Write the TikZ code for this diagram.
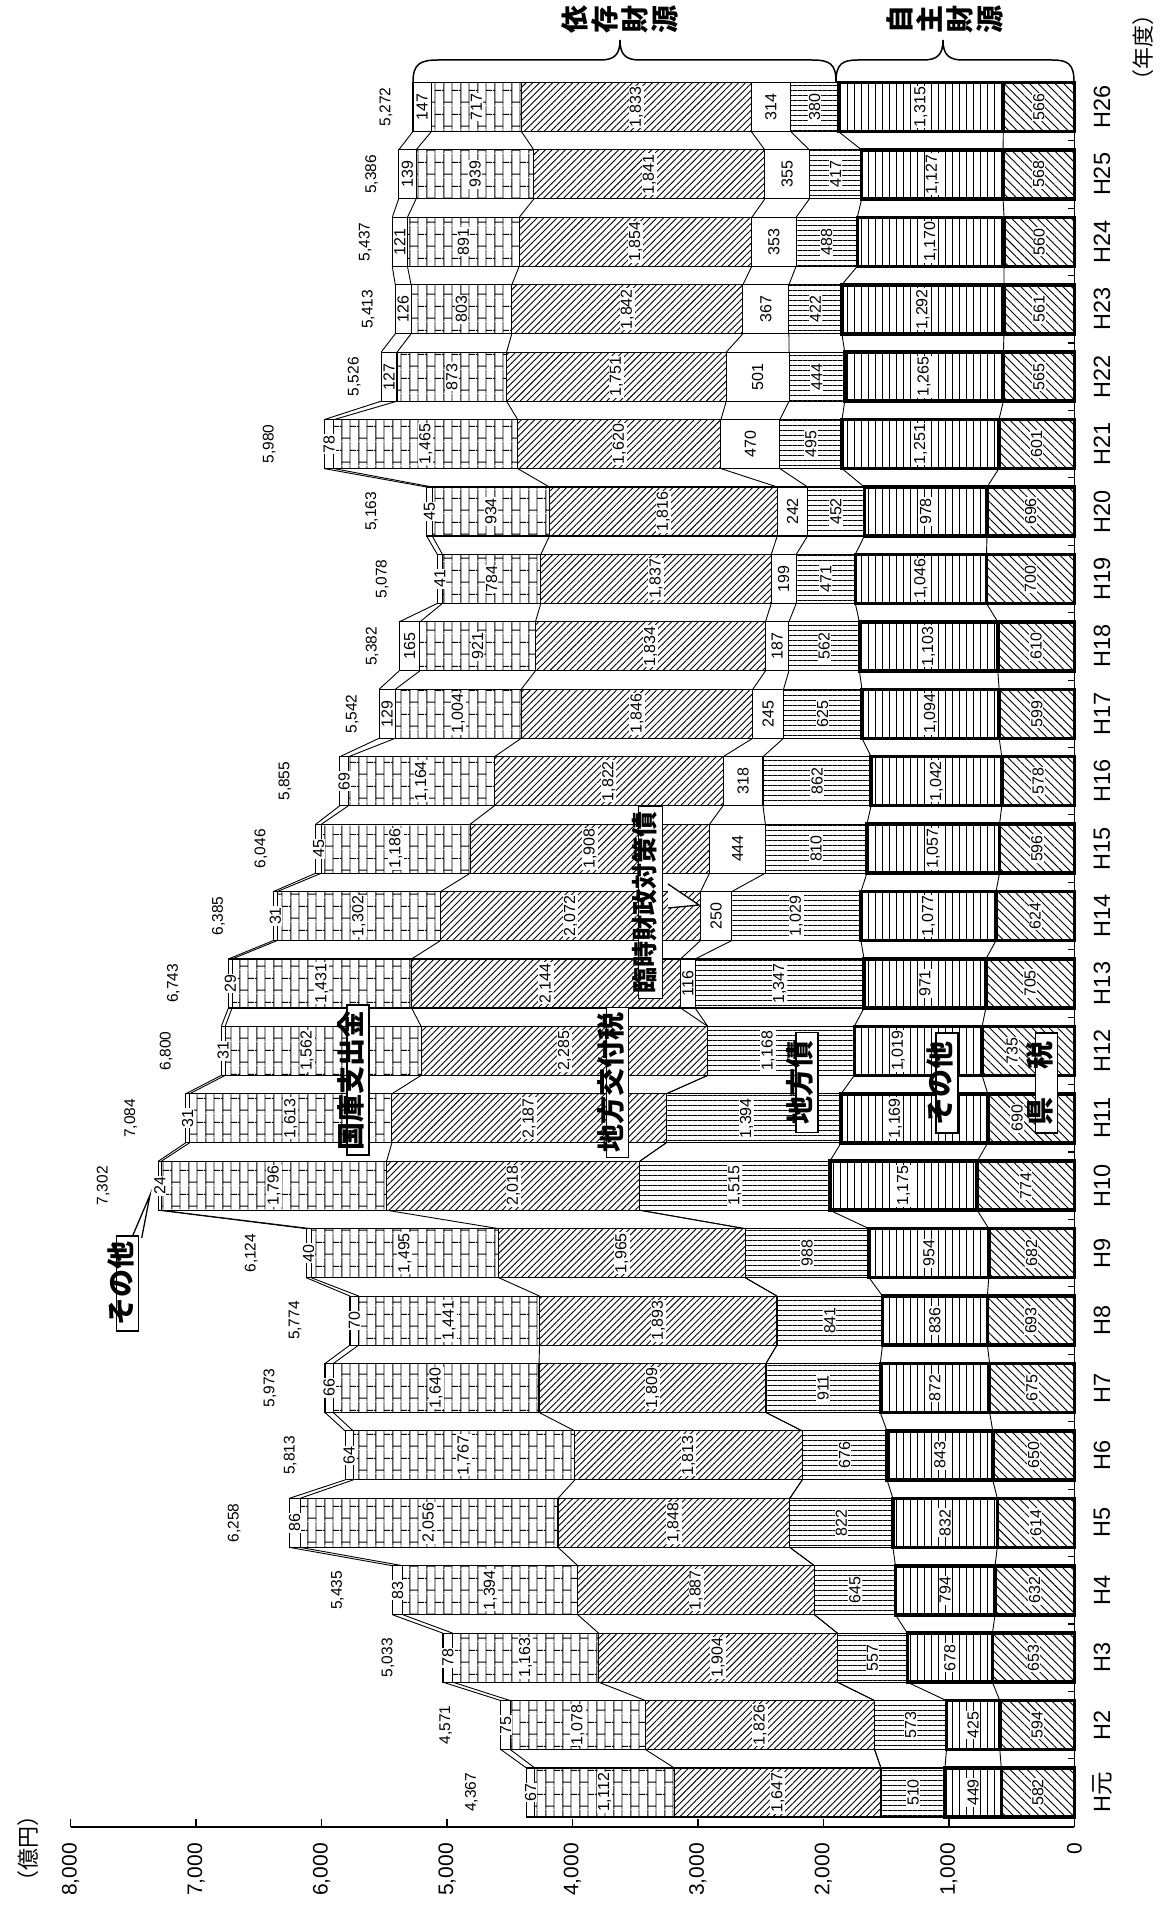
\documentclass[tikz,border=0pt]{standalone}
\usepackage{fontspec}
\setmainfont{Liberation Sans}
\newfontfamily\jp{Noto Sans CJK JP}
\usetikzlibrary{patterns,patterns.meta}
\pgfdeclarepattern{
  name=vbricks,
  bottom left={\pgfpointorigin},
  top right={\pgfpoint{17pt}{24pt}},
  tile size={\pgfpoint{17pt}{24pt}},
  code={
    \pgfsetlinewidth{0.9pt}
    \pgfpathmoveto{\pgfpoint{2pt}{0pt}}\pgfpathlineto{\pgfpoint{2pt}{24pt}}
    \pgfpathmoveto{\pgfpoint{10.5pt}{0pt}}\pgfpathlineto{\pgfpoint{10.5pt}{24pt}}
    \pgfpathmoveto{\pgfpoint{2pt}{3pt}}\pgfpathlineto{\pgfpoint{10.5pt}{3pt}}
    \pgfpathmoveto{\pgfpoint{10.5pt}{15pt}}\pgfpathlineto{\pgfpoint{17pt}{15pt}}
    \pgfpathmoveto{\pgfpoint{0pt}{15pt}}\pgfpathlineto{\pgfpoint{2pt}{15pt}}
    \pgfusepath{stroke}
  }
}
\pgfkeys{/pgf/number format/.cd,int detect,1000 sep={,},assume math mode=true}
\tikzset{
  seg/.style={draw=black,line width=1.1pt},
  own/.style={draw=black,line width=3.5pt},
  conn/.style={line width=0.9pt},
  numlbl/.style={rotate=90,fill=white,inner sep=1pt,font=\fontsize{16}{16}\selectfont},
  totl/.style={rotate=90,inner sep=1pt,font=\fontsize{15.5}{15.5}\selectfont},
  yl/.style={rotate=90,inner sep=1pt,font=\fontsize{23.5}{23.5}\selectfont},
  axl/.style={rotate=90,inner sep=1pt,anchor=east,font=\fontsize{21}{21}\selectfont},
  unitl/.style={rotate=90,font={\jp\fontsize{22}{22}\selectfont}},
  jbox/.style={rotate=90,draw,fill=white,line width=1.3pt,
     font={\jp\bfseries\fontsize{28}{28}\selectfont},
     text height=0.88em,text depth=0.12em,inner xsep=5pt,inner ysep=6pt},
  bracel/.style={line width=1.5pt},
  pLT/.style={pattern={Lines[angle=-45,distance=6pt,line width=0.9pt]}},
  pJS/.style={pattern={Lines[angle=90,distance=7pt,line width=0.9pt]}},
  pCS/.style={pattern={Lines[angle=0,distance=5pt,line width=0.9pt]}},
  pKF/.style={pattern={Lines[angle=45,distance=4.7pt,line width=0.9pt]}},
  pKK/.style={pattern=vbricks},
}
\def\shA{0}\def\shB{0}\def\shC{0}\def\shF{0}
\newcommand\resetsh{\def\shA{0}\def\shB{0}\def\shC{0}\def\shF{0}}
\newcommand\ybar[9]{%
 \pgfmathsetmacro\yc{1792.5-#1*67.42}%
 \pgfmathsetmacro\yt{\yc-24.5}%
 \pgfmathsetmacro\yb{\yc+24.5}%
 \pgfmathsetmacro\xA{1074.3-0.12545*(#3)}%
 \pgfmathsetmacro\xB{1074.3-0.12545*(#3+#4)}%
 \pgfmathsetmacro\xC{1074.3-0.12545*(#3+#4+#5)}%
 \pgfmathsetmacro\xD{1074.3-0.12545*(#3+#4+#5+#6)}%
 \pgfmathsetmacro\xE{1074.3-0.12545*(#3+#4+#5+#6+#7)}%
 \pgfmathsetmacro\xF{1074.3-0.12545*(#3+#4+#5+#6+#7+#8)}%
 \pgfmathsetmacro\xG{1074.3-0.12545*(#3+#4+#5+#6+#7+#8+#9)}%
 \pgfmathtruncatemacro\tot{#3+#4+#5+#6+#7+#8+#9}%
 \ifnum#9<100 \def\off{55}\else\def\off{27}\fi
 \path[seg,pKF] (\xD,\yt) rectangle (\xE,\yb);
 \path[seg,pKK] (\xE,\yt) rectangle (\xF,\yb);
 \path[seg,fill=white] (\xF,\yt) rectangle (\xG,\yb);
 \path[seg,pCS] (\xB,\yt) rectangle (\xC,\yb);
 \ifnum#6>0 \path[seg,fill=white] (\xC,\yt) rectangle (\xD,\yb);\fi
 \path[own,pLT] (1074.3,\yt) rectangle (\xA,\yb);
 \path[own,pJS] (\xA,\yt) rectangle (\xB,\yb);
 \coordinate (t-#1-1) at (\xA,\yt); \coordinate (b-#1-1) at (\xA,\yb);
 \coordinate (t-#1-2) at (\xB,\yt); \coordinate (b-#1-2) at (\xB,\yb);
 \coordinate (t-#1-3) at (\xC,\yt); \coordinate (b-#1-3) at (\xC,\yb);
 \coordinate (t-#1-4) at (\xD,\yt); \coordinate (b-#1-4) at (\xD,\yb);
 \coordinate (t-#1-5) at (\xE,\yt); \coordinate (b-#1-5) at (\xE,\yb);
 \coordinate (t-#1-6) at (\xF,\yt); \coordinate (b-#1-6) at (\xF,\yb);
 \coordinate (t-#1-7) at (\xG,\yt); \coordinate (b-#1-7) at (\xG,\yb);
 \node[numlbl] (n-#1-1) at ({(1074.3+\xA)/2+(\shA)},\yc) {\pgfmathprintnumber{#3}};
 \node[numlbl] (n-#1-2) at ({(\xA+\xB)/2+(\shB)},\yc) {\pgfmathprintnumber{#4}};
 \node[numlbl] (n-#1-3) at ({(\xB+\xC)/2+(\shC)},\yc) {\pgfmathprintnumber{#5}};
 \ifnum#6>0 \node[numlbl] (n-#1-4) at ({(\xC+\xD)/2},\yc) {\pgfmathprintnumber{#6}};\fi
 \node[numlbl] (n-#1-5) at ({(\xD+\xE)/2},\yc) {\pgfmathprintnumber{#7}};
 \node[numlbl] (n-#1-6) at ({(\xE+\xF)/2+(\shF)},\yc) {\pgfmathprintnumber{#8}};
 \node[numlbl] (n-#1-7) at ({(\xF+\xG)/2},\yc) {\pgfmathprintnumber{#9}};
 \node[totl] (tl-#1) at ({\xG-\off},\yc) {\pgfmathprintnumber{\tot}};
 \node[yl] (yr-#1) at (1102,\yc) {#2};
}
\begin{document}
\begin{tikzpicture}[x=1pt,y=-1pt]
\fill[white] (0,0) rectangle (1164,1905);
\useasboundingbox (0,0) rectangle (1164,1905);
% category axis
\draw[line width=1.3pt] (1074.3,1827) -- (1074.3,82.5);
\foreach \i in {0,...,24}{\pgfmathsetmacro\ym{1792.5-\i*67.42-33.71}
  \draw[line width=1.1pt] (1074.3,\ym) -- (1068,\ym);}
% value axis
\draw[line width=1.5pt] (70.7,1827) -- (1074.3,1827);
\foreach \v in {0,...,8}{\pgfmathsetmacro\xv{1074.3-125.45*\v}
  \draw[line width=1.5pt] (\xv,1827) -- (\xv,1819);
  \pgfmathtruncatemacro\vv{\v*1000}
  \node[axl] (ax-\v) at (\xv,1842) {\pgfmathprintnumber{\vv}};}
\node[unitl] (unit) at (28,1848) {（億円）};
\node[unitl] (nendo) at (1143,48) {（年度）};
% bars
\ybar{0}{H{\jp 元}}{582}{449}{510}{0}{1647}{1112}{67}
\ybar{1}{H2}{594}{425}{573}{0}{1826}{1078}{75}
\ybar{2}{H3}{653}{678}{557}{0}{1904}{1163}{78}
\ybar{3}{H4}{632}{794}{645}{0}{1887}{1394}{83}
\ybar{4}{H5}{614}{832}{822}{0}{1848}{2056}{86}
\ybar{5}{H6}{650}{843}{676}{0}{1813}{1767}{64}
\ybar{6}{H7}{675}{872}{911}{0}{1809}{1640}{66}
\ybar{7}{H8}{693}{836}{841}{0}{1893}{1441}{70}
\ybar{8}{H9}{682}{954}{988}{0}{1965}{1495}{40}
\ybar{9}{H10}{774}{1175}{1515}{0}{2018}{1796}{24}
\def\shA{-14}\def\shB{-19}\def\shC{-7}
\ybar{10}{H11}{690}{1169}{1394}{0}{2187}{1613}{31}
\def\shA{-16}\def\shB{-20}\def\shC{-13}\def\shF{-16}
\ybar{11}{H12}{735}{1019}{1168}{0}{2285}{1562}{31}
\resetsh
\ybar{12}{H13}{705}{971}{1347}{116}{2144}{1431}{29}
\ybar{13}{H14}{624}{1077}{1029}{250}{2072}{1302}{31}
\ybar{14}{H15}{596}{1057}{810}{444}{1908}{1186}{45}
\ybar{15}{H16}{578}{1042}{862}{318}{1822}{1164}{69}
\ybar{16}{H17}{599}{1094}{625}{245}{1846}{1004}{129}
\ybar{17}{H18}{610}{1103}{562}{187}{1834}{921}{165}
\ybar{18}{H19}{700}{1046}{471}{199}{1837}{784}{41}
\ybar{19}{H20}{696}{978}{452}{242}{1816}{934}{45}
\ybar{20}{H21}{601}{1251}{495}{470}{1620}{1465}{78}
\ybar{21}{H22}{565}{1265}{444}{501}{1751}{873}{127}
\ybar{22}{H23}{561}{1292}{422}{367}{1842}{803}{126}
\ybar{23}{H24}{560}{1170}{488}{353}{1854}{891}{121}
\ybar{24}{H25}{568}{1127}{417}{355}{1841}{939}{139}
\ybar{25}{H26}{566}{1315}{380}{314}{1833}{717}{147}
% connectors
\foreach \i in {0,...,24}{\pgfmathtruncatemacro\j{\i+1}
  \foreach \k in {1,...,7}{\draw[conn] (t-\i-\k) -- (b-\j-\k);}}
% braces
\draw[bracel] (413,82) .. controls (413,64) and (420,60) .. (438,60) -- (600,60)
  .. controls (614,60) and (620,55) .. (620,40)
  .. controls (620,55) and (626,60) .. (640,60) -- (812,60)
  .. controls (830,60) and (836,64) .. (836,82);
\draw[bracel] (836,82) .. controls (836,64) and (842,60) .. (858,60) -- (923,60)
  .. controls (937,60) and (943,55) .. (943,40)
  .. controls (943,55) and (949,60) .. (963,60) -- (1052,60)
  .. controls (1068,60) and (1074,64) .. (1074,82);
\node[rotate=90,align=center,inner sep=0pt,font={\jp\bfseries\fontsize{28}{30}\selectfont}] (izon) at (620,20) {依\\存\\財\\源};
\node[rotate=90,align=center,inner sep=0pt,font={\jp\bfseries\fontsize{28}{30}\selectfont}] (jishu) at (945,20) {自\\主\\財\\源};
% labels
\node[jbox] (kokko) at (358,1080) {国庫支出金};
\node[jbox] (kofu) at (617.5,1082.5) {地方交付税};
\node[jbox,inner xsep=8pt] (chihosai) at (807,1082.5) {地方債};
\node[jbox,inner xsep=8pt] (sonota2) at (947,1083) {その他};
\node[jbox,inner xsep=8pt] (kenzei) at (1046.5,1083) {県　税};
% callouts
\coordinate (tipA) at (150,1195);
\draw[line width=1.3pt,fill=white] (131.7,1238) -- (tipA) -- (141.7,1238);
\node[jbox,inner xsep=5.5pt] (sonota1) at (127.5,1283.5) {その他};
\coordinate (tipB) at (699,905);
\draw[line width=1.3pt,fill=white] (668,884) -- (tipB) -- (668,908);
\node[jbox,font={\jp\bfseries\fontsize{26}{26}\selectfont},inner ysep=7pt] (rinji) at (650.5,902.5) {臨時財政対策債};
\end{tikzpicture}
\end{document}
